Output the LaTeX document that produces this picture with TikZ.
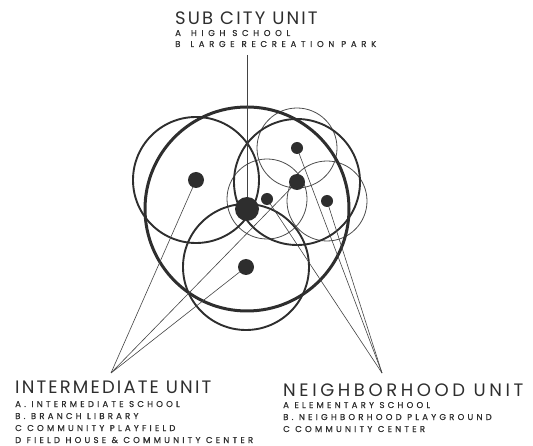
\documentclass[tikz,border=0pt]{standalone}
\usepackage{fontspec}
\setmainfont{Poppins}
\newfontfamily\ttlfont{Poppins}[LetterSpace=12]
\newfontfamily\subfont{Poppins}[LetterSpace=38,FakeBold=0.8]
\newfontfamily\subwidefont{Poppins}[LetterSpace=55,FakeBold=0.8]
\definecolor{ink}{HTML}{2E2E2E}
\begin{document}
\begin{tikzpicture}[x=1pt,y=-1pt,
  subcity/.style={draw=ink, line width=3pt},
  inter/.style={draw=ink, line width=1.9pt},
  neigh/.style={draw=ink!85, line width=0.8pt},
  leader/.style={draw=ink!90, line width=0.6pt},
  dot/.style={circle, fill=ink, inner sep=0pt, minimum size=#1},
  title/.style={anchor=base west, inner sep=0pt, font=\ttlfont\fontsize{18}{18}\selectfont, text=ink},
  item/.style={anchor=base west, inner sep=0pt, font=\subfont\fontsize{8.5}{8.5}\selectfont, text=ink},
  itemwide/.style={anchor=base west, inner sep=0pt, font=\subwidefont\fontsize{8.5}{8.5}\selectfont, text=ink}]
\useasboundingbox (0,0) rectangle (533,446);
% centres
\coordinate (cS) at (247,209);
\coordinate (cI1) at (196,180);
\coordinate (cI2) at (297,182);
\coordinate (cI3) at (246,267);
\coordinate (cN1) at (297,148);
\coordinate (cN2) at (327,201);
\coordinate (cN3) at (267,199);
\coordinate (apexI) at (111,373);
\coordinate (apexN) at (382,373);
\coordinate (topS) at (247,55);
% circles
\draw[neigh] (cN1) circle (40pt);
\draw[neigh] (cN2) circle (40pt);
\draw[neigh] (cN3) circle (40pt);
\draw[inter] (cI1) circle (63pt);
\draw[inter] (cI2) circle (63pt);
\draw[inter] (cI3) circle (63pt);
\draw[subcity] (cS) circle (102pt);
% leaders
\draw[leader] (topS) -- (cS);
\draw[leader] (cI1) -- (apexI);
\draw[leader] (cI2) -- (apexI);
\draw[leader] (cI3) -- (apexI);
\draw[leader] (cN1) -- (apexN);
\draw[leader] (cN2) -- (apexN);
\draw[leader] (cN3) -- (apexN);
% dots
\node[dot=24pt] (dS) at (cS) {};
\node[dot=16pt] (dI1) at (cI1) {};
\node[dot=16pt] (dI2) at (cI2) {};
\node[dot=16pt] (dI3) at (cI3) {};
\node[dot=12pt] (dN1) at (cN1) {};
\node[dot=12pt] (dN2) at (cN2) {};
\node[dot=12pt] (dN3) at (cN3) {};
% texts
\node[title] (tS) at (175,25) {SUB CITY UNIT};
\node[itemwide] (tS1) at (175,36) {A\hspace{10pt}HIGH SCHOOL};
\node[itemwide] (tS2) at (175,47) {B\hspace{10pt}LARGE RECREATION PARK};
\node[title] (tI) at (15,393) {INTERMEDIATE UNIT};
\node[item] (tI1) at (15,407) {A. INTERMEDIATE SCHOOL};
\node[item] (tI2) at (15,419) {B. BRANCH LIBRARY};
\node[item] (tI3) at (15,431) {C COMMUNITY PLAYFIELD};
\node[item] (tI4) at (15,443) {D FIELD HOUSE \& COMMUNITY CENTER};
\node[title] (tN) at (283,396) {\addfontfeature{LetterSpace=20}NEIGHBORHOOD UNIT};
\node[item] (tN1) at (283,408) {A ELEMENTARY SCHOOL};
\node[item] (tN2) at (283,420) {B. NEIGHBORHOOD PLAYGROUND};
\node[item] (tN3) at (283,432) {C COMMUNITY CENTER};
\end{tikzpicture}
\end{document}
